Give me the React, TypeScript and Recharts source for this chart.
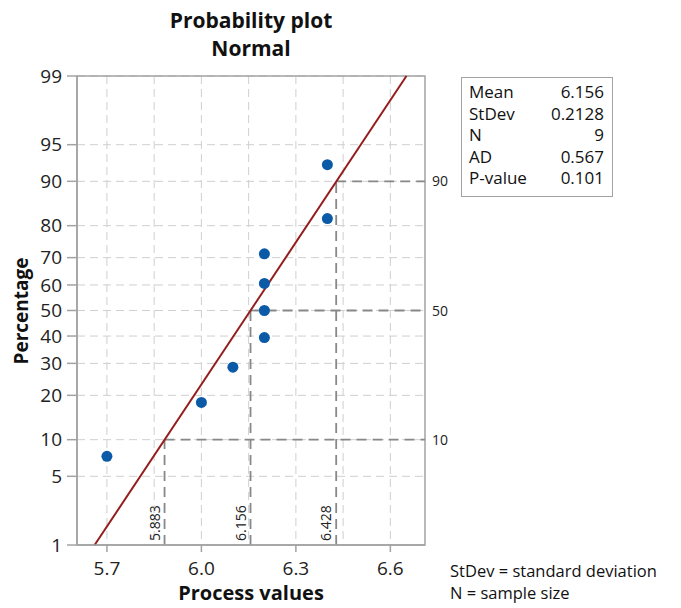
import React from 'react';
import {
  ComposedChart, Scatter, XAxis, YAxis, CartesianGrid, ReferenceLine, ReferenceDot, ReferenceArea,
} from 'recharts';

// observed process values and their plotted percentages (median ranks)
const processValues = [5.7, 6.0, 6.1, 6.2, 6.2, 6.2, 6.2, 6.4, 6.4];
const percentages = [7.4, 18.1, 28.7, 39.4, 50.0, 60.6, 71.3, 81.9, 92.6];

const percentTicks = [1, 5, 10, 20, 30, 40, 50, 60, 70, 80, 90, 95, 99];
const xTicks = [5.7, 6.0, 6.3, 6.6];
const xGridValues = [5.7, 5.85, 6.0, 6.15, 6.3, 6.45, 6.6];

// percentile markers: [percent, value]
const markerPercents = [10, 50, 90];
const markerValues = [5.883, 6.156, 6.428];

const statLabels = ['Mean', 'StDev', 'N', 'AD', 'P-value'];
const statValues = ['6.156', '0.2128', '9', '0.567', '0.101'];

const MEAN = 6.156;
const STDEV = 0.2128;
const X_DOMAIN: [number, number] = [5.605, 6.71];

const FONT = '"Open Sans", "Noto Sans", sans-serif';
const GRID = '#cfcfcf';
const FRAME = '#a3a3a3';
const MARK = '#888888';

// inverse standard normal CDF (Acklam), used as the probability scale
const probit = (p: number) => {
  const a = [-39.6968302866538, 220.946098424521, -275.928510446969, 138.357751867269, -30.6647980661472, 2.50662827745924];
  const b = [-54.4760987982241, 161.585836858041, -155.698979859887, 66.8013118877197, -13.2806815528857];
  const c = [-0.00778489400243029, -0.322396458041136, -2.40075827716184, -2.54973253934373, 4.37466414146497, 2.93816398269878];
  const d = [0.00778469570904146, 0.32246712907004, 2.445134137143, 3.75440866190742];
  const pl = 0.02425;
  if (p < pl) {
    const q = Math.sqrt(-2 * Math.log(p));
    return (((((c[0] * q + c[1]) * q + c[2]) * q + c[3]) * q + c[4]) * q + c[5]) / ((((d[0] * q + d[1]) * q + d[2]) * q + d[3]) * q + 1);
  }
  if (p > 1 - pl) {
    const q = Math.sqrt(-2 * Math.log(1 - p));
    return -(((((c[0] * q + c[1]) * q + c[2]) * q + c[3]) * q + c[4]) * q + c[5]) / ((((d[0] * q + d[1]) * q + d[2]) * q + d[3]) * q + 1);
  }
  const q = p - 0.5;
  const r = q * q;
  return (((((a[0] * r + a[1]) * r + a[2]) * r + a[3]) * r + a[4]) * r + a[5]) * q / (((((b[0] * r + b[1]) * r + b[2]) * r + b[3]) * r + b[4]) * r + 1);
};
const zOf = (pct: number) => probit(pct / 100);

const App: React.FC = () => {
  const points = processValues.map((v, i) => ({ x: v, y: zOf(percentages[i]) }));
  const zMin = zOf(1);
  const zMax = zOf(99);
  const yTickZ = percentTicks.map(zOf);
  const labelFor = (z: number) => {
    const idx = yTickZ.findIndex(t => Math.abs(t - z) < 1e-6);
    return idx >= 0 ? String(percentTicks[idx]) : '';
  };

  return (
    <div style={{ position: 'absolute', left: 0, top: 0, width: 681, height: 608, background: '#fff', fontFamily: FONT }}>
      <ComposedChart width={681} height={608} margin={{ top: 76, right: 256, left: 0, bottom: 0 }}>
        <CartesianGrid
          stroke={GRID}
          strokeDasharray="8 5"
          verticalValues={xGridValues}
          horizontalValues={yTickZ}
        />
        <ReferenceArea x1={X_DOMAIN[0]} x2={X_DOMAIN[1]} y1={zMin} y2={zMax} fill="none" stroke={FRAME} strokeWidth={1.5} />
        <XAxis
          type="number"
          dataKey="x"
          domain={X_DOMAIN}
          ticks={xTicks}
          interval={0}
          allowDataOverflow
          height={63}
          tickSize={7}
          tickMargin={10}
          tickFormatter={(v: number) => v.toFixed(1)}
          tick={{ fontSize: 19, fill: '#222', fontFamily: FONT }}
          axisLine={{ stroke: FRAME, strokeWidth: 1.5 }}
          tickLine={{ stroke: FRAME, strokeWidth: 1.5 }}
        />
        <YAxis
          type="number"
          dataKey="y"
          domain={[zMin, zMax]}
          ticks={yTickZ}
          interval={0}
          allowDataOverflow
          width={77}
          tickSize={10}
          tickMargin={5}
          tickFormatter={labelFor}
          tick={{ fontSize: 19, fill: '#222', fontFamily: FONT }}
          axisLine={{ stroke: FRAME, strokeWidth: 1.5 }}
          tickLine={{ stroke: FRAME, strokeWidth: 1.5 }}
        />
        {markerPercents.map((p, i) => (
          <ReferenceLine
            key={'h' + p}
            segment={[{ x: markerValues[i], y: zOf(p) }, { x: X_DOMAIN[1], y: zOf(p) }]}
            stroke={MARK}
            strokeWidth={1.8}
            strokeDasharray="10 6"
          />
        ))}
        {markerPercents.map((p, i) => (
          <ReferenceLine
            key={'v' + p}
            segment={[{ x: markerValues[i], y: zMin }, { x: markerValues[i], y: zOf(p) }]}
            stroke={MARK}
            strokeWidth={1.8}
            strokeDasharray="10 6"
          />
        ))}
        {markerPercents.map((p) => (
          <ReferenceDot
            key={'rl' + p}
            x={X_DOMAIN[1]}
            y={zOf(p)}
            ifOverflow="visible"
            shape={(props: any) => (
              <text x={props.cx + 7} y={props.cy + 5} fontSize={14} fill="#222" fontFamily={FONT}>{p}</text>
            )}
          />
        ))}
        {markerValues.map((v) => (
          <ReferenceDot
            key={'vl' + v}
            x={v}
            y={zMin}
            ifOverflow="visible"
            shape={(props: any) => (
              <text
                x={0}
                y={0}
                transform={`translate(${props.cx - 5}, ${props.cy - 4}) rotate(-90)`}
                fontSize={14}
                fill="#222"
                fontFamily={FONT}
              >
                {v.toFixed(3)}
              </text>
            )}
          />
        ))}
        <ReferenceLine
          segment={[
            { x: MEAN + zMin * STDEV, y: zMin },
            { x: MEAN + zMax * STDEV, y: zMax },
          ]}
          stroke="#941c1c"
          strokeWidth={2}
        />
        <Scatter data={points} fill="#0b5aa8" isAnimationActive={false} shape={(props: any) => (
          <circle cx={props.cx} cy={props.cy} r={5.5} fill="#0b5aa8" />
        )} />
      </ComposedChart>

      <svg width={681} height={608} style={{ position: 'absolute', left: 0, top: 0, pointerEvents: 'none' }}>
        <text x={251} y={28} textAnchor="middle" fontSize={21} fontWeight="bold" fill="#111" fontFamily={FONT}>Probability plot</text>
        <text x={251} y={56} textAnchor="middle" fontSize={21} fontWeight="bold" fill="#111" fontFamily={FONT}>Normal</text>
        <text transform="translate(28, 311) rotate(-90)" textAnchor="middle" fontSize={19} fontWeight="bold" fill="#111" fontFamily={FONT}>Percentage</text>
        <text x={251} y={600} textAnchor="middle" fontSize={20} fontWeight="bold" fill="#111" fontFamily={FONT}>Process values</text>

        <rect x={461.5} y={77.5} width={151} height={119} fill="#fff" stroke={FRAME} strokeWidth={1} />
        {statLabels.map((s, i) => (
          <text key={s} x={469} y={98 + i * 21.5} fontSize={17} fill="#111" fontFamily={FONT}>{s}</text>
        ))}
        {statValues.map((s, i) => (
          <text key={'v' + i} x={604} y={98 + i * 21.5} textAnchor="end" fontSize={17} fill="#111" fontFamily={FONT}>{s}</text>
        ))}

        <text x={450} y={577} fontSize={16.5} fill="#111" fontFamily={FONT}>StDev = standard deviation</text>
        <text x={450} y={599} fontSize={16.5} fill="#111" fontFamily={FONT}>N = sample size</text>
      </svg>
    </div>
  );
};

export default App;
